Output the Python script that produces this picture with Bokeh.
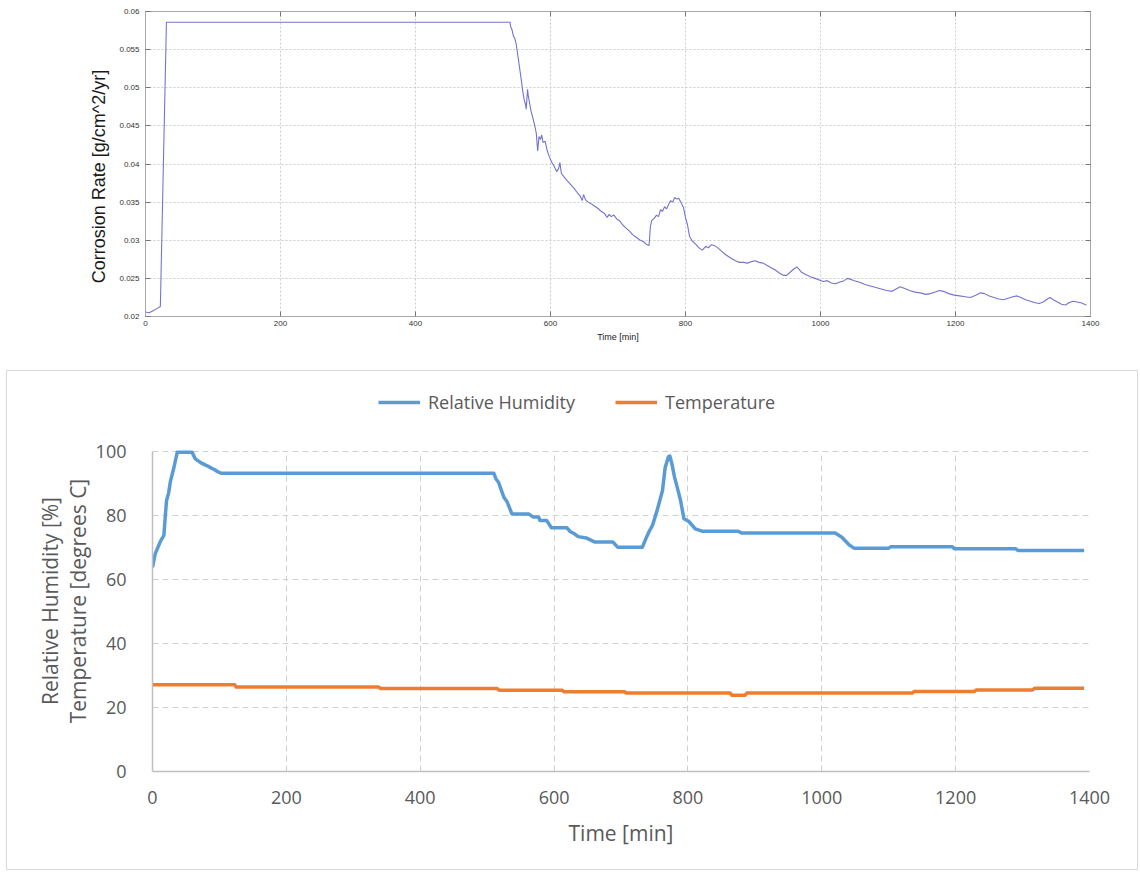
from bokeh.plotting import figure
from bokeh.layouts import column
from bokeh.models import (Range1d, FixedTicker, CustomJSTickFormatter, LinearAxis,
                          Legend, LegendItem)
from bokeh.embed import file_html
from bokeh.resources import INLINE

# ---------------- data ----------------
# Corrosion rate logger (top panel)
corr_time = [0, 5, 10, 18, 22, 31, 540, 541, 543, 545, 547, 549, 552, 556, 559, 561,
             563, 564, 566, 567, 569, 571, 574, 577, 579, 581, 583, 585, 587, 589, 592,
             595, 598, 602, 606, 609, 612, 614, 616, 620, 625, 630, 635, 640, 644, 647,
             649, 652, 656, 660, 665, 670, 675, 680, 684, 687, 690, 694, 698, 702, 707,
             712, 717, 722, 727, 733, 738, 743, 746, 748, 750, 754, 757, 760, 763, 766,
             769, 772, 775, 778, 781, 784, 787, 790, 793, 797, 800, 803, 806, 810, 815,
             820, 825, 830, 834, 838, 843, 848, 853, 858, 863, 868, 874, 880, 886, 892,
             898, 903, 909, 915, 921, 927, 933, 939, 945, 950, 955, 960, 965, 968, 972,
             978, 985, 992, 998, 1004, 1010, 1016, 1022, 1028, 1035, 1040, 1044, 1050,
             1058, 1066, 1074, 1082, 1090, 1098, 1106, 1112, 1118, 1124, 1132, 1140,
             1148, 1156, 1163, 1170, 1176, 1182, 1190, 1198, 1206, 1214, 1222, 1230,
             1237, 1243, 1250, 1257, 1264, 1271, 1278, 1285, 1291, 1297, 1304, 1311,
             1318, 1324, 1330, 1336, 1340, 1345, 1351, 1357, 1363, 1368, 1374, 1380,
             1386, 1391, 1394]
corr_rate = [0.0206, 0.0205, 0.0207, 0.0211, 0.0213, 0.0586, 0.0586, 0.0580, 0.0576,
             0.0568, 0.0565, 0.0558, 0.0540, 0.0515, 0.0495, 0.0484, 0.0478, 0.0472,
             0.0498, 0.0490, 0.0480, 0.0470, 0.0460, 0.0449, 0.0440, 0.0417, 0.0436,
             0.0432, 0.0438, 0.0428, 0.0430, 0.0418, 0.0410, 0.0402, 0.0396, 0.0390,
             0.0394, 0.0402, 0.0388, 0.0383, 0.0378, 0.0373, 0.0368, 0.0362, 0.0358,
             0.0352, 0.0360, 0.0353, 0.0350, 0.0348, 0.0345, 0.0342, 0.0338, 0.0335,
             0.0330, 0.0334, 0.0331, 0.0333, 0.0328, 0.0326, 0.0320, 0.0316, 0.0312,
             0.0307, 0.0304, 0.0300, 0.0298, 0.0294, 0.0293, 0.0318, 0.0326, 0.0329,
             0.0333, 0.0331, 0.0340, 0.0338, 0.0344, 0.0341, 0.0347, 0.0352, 0.0350,
             0.0356, 0.0354, 0.0355, 0.0350, 0.0343, 0.0330, 0.0320, 0.0305, 0.0299,
             0.0295, 0.0290, 0.0287, 0.0292, 0.0290, 0.0294, 0.0293, 0.0290, 0.0286,
             0.0282, 0.0279, 0.0276, 0.0273, 0.0271, 0.0271, 0.0270, 0.0272, 0.0273,
             0.0271, 0.0270, 0.0267, 0.0264, 0.0261, 0.0257, 0.0254, 0.0254, 0.0258,
             0.0262, 0.0265, 0.0262, 0.0258, 0.0255, 0.0252, 0.0250, 0.0248, 0.0246,
             0.0247, 0.0244, 0.0243, 0.0245, 0.0247, 0.0250, 0.0249, 0.0247, 0.0245,
             0.0242, 0.0240, 0.0238, 0.0236, 0.0234, 0.0233, 0.0236, 0.0239, 0.0237,
             0.0234, 0.0232, 0.0231, 0.0229, 0.0230, 0.0232, 0.0234, 0.0233, 0.0230,
             0.0228, 0.0227, 0.0226, 0.0225, 0.0228, 0.0231, 0.0230, 0.0227, 0.0225,
             0.0223, 0.0222, 0.0224, 0.0226, 0.0227, 0.0225, 0.0222, 0.0220, 0.0218,
             0.0217, 0.0219, 0.0223, 0.0225, 0.0222, 0.0219, 0.0216, 0.0215, 0.0218,
             0.0220, 0.0219, 0.0218, 0.0216, 0.0215]

# Relative humidity (bottom panel)
rh_time = [0, 4, 8, 12, 17, 19, 21, 24, 27, 32, 37, 59, 64, 72, 81, 88, 93, 98, 103,
           510, 513, 517, 521, 525, 530, 537, 562, 569, 577, 579, 589, 596, 619, 624,
           631, 636, 648, 661, 688, 695, 732, 737, 742, 747, 754, 762, 766, 771, 773,
           776, 780, 784, 789, 794, 801, 811, 821, 875, 880, 1020, 1030, 1040, 1048,
           1100, 1103, 1195, 1198, 1290, 1293, 1392]
rh_value = [63.8, 68.0, 70.0, 72.0, 73.8, 79.5, 84.7, 87.0, 90.9, 95.0, 99.8, 99.8,
            97.7, 96.5, 95.6, 94.8, 94.3, 93.6, 93.2, 93.2, 91.5, 90.4, 88.0, 85.7,
            84.2, 80.5, 80.5, 79.5, 79.5, 78.4, 78.4, 76.2, 76.2, 75.0, 74.2, 73.4,
            73.0, 71.7, 71.7, 70.1, 70.1, 72.7, 75.0, 76.9, 81.6, 87.8, 95.0, 98.4,
            98.6, 96.2, 92.0, 88.8, 84.7, 79.0, 78.2, 75.8, 75.1, 75.1, 74.5, 74.5,
            73.2, 71.0, 69.8, 69.8, 70.2, 70.2, 69.6, 69.6, 69.1, 69.1]

# Temperature (bottom panel)
temp_time = [0, 123, 125, 338, 341, 515, 518, 612, 615, 705, 708, 863, 866, 885, 888,
             1135, 1138, 1228, 1231, 1315, 1318, 1392]
temp_value = [27.1, 27.1, 26.4, 26.4, 25.9, 25.9, 25.4, 25.4, 24.9, 24.9, 24.5, 24.5,
              23.8, 23.8, 24.5, 24.5, 25.0, 25.0, 25.5, 25.5, 26.0, 26.0]

time_ticks = [0, 200, 400, 600, 800, 1000, 1200, 1400]
corr_ticks = [0.02, 0.025, 0.03, 0.035, 0.04, 0.045, 0.05, 0.055, 0.06]
pct_ticks = [0, 20, 40, 60, 80, 100]

# ---------------- top panel: corrosion rate ----------------
MFONT = "Liberation Sans"
FRAME = "#a8a8a8"

p1 = figure(width=1140, height=360, x_range=Range1d(0, 1400), y_range=Range1d(0.02, 0.06),
            output_backend="svg", toolbar_location=None,
            min_border_left=144, min_border_right=50, min_border_top=11, min_border_bottom=44)
p1.line(corr_time, corr_rate, line_color="#5a5ac8", line_width=1.1, line_alpha=0.85)

p1.outline_line_color = FRAME
p1.background_fill_color = "white"
for g in (p1.xgrid[0], p1.ygrid[0]):
    g.grid_line_color = "#cccccc"
    g.grid_line_dash = "2 2"
p1.xgrid.ticker = FixedTicker(ticks=time_ticks)
p1.ygrid.ticker = FixedTicker(ticks=corr_ticks)

xa = p1.xaxis[0]
xa.ticker = FixedTicker(ticks=time_ticks)
xa.axis_label = "Time [min]"
xa.axis_label_text_font_size = "9px"
xa.axis_label_standoff = 3
ya = p1.yaxis[0]
ya.ticker = FixedTicker(ticks=corr_ticks)
ya.formatter = CustomJSTickFormatter(code="return String(parseFloat(tick.toFixed(4)));")
# trailing no-break spaces nudge the rotated title slightly downwards
ya.axis_label = "Corrosion Rate [g/cm^2/yr]" + "\u00a0" * 5
ya.axis_label_text_font_size = "18px"
ya.axis_label_standoff = 7
ya.major_label_standoff = 6
xa.major_label_standoff = 4

for ax in (xa, ya):
    ax.axis_line_color = FRAME
    ax.major_tick_line_color = "#777777"
    ax.major_tick_in = 5
    ax.major_tick_out = 0
    ax.minor_tick_line_color = None
    ax.major_label_text_font = MFONT
    ax.major_label_text_font_size = "8px"
    ax.major_label_text_color = "#333333"
    ax.axis_label_text_font = MFONT
    ax.axis_label_text_font_style = "normal"
    ax.axis_label_text_color = "#1a1a1a"

# box-style frame: tick marks on the top and right edges, without labels
blank = CustomJSTickFormatter(code="return '';")
top_ax = LinearAxis(ticker=FixedTicker(ticks=time_ticks), formatter=blank,
                    major_label_standoff=0, major_tick_in=5, major_tick_out=0,
                    minor_tick_line_color=None, axis_line_color=FRAME,
                    major_tick_line_color="#777777")
right_ax = LinearAxis(ticker=FixedTicker(ticks=corr_ticks), formatter=blank,
                      major_label_standoff=0, major_tick_in=5, major_tick_out=0,
                      minor_tick_line_color=None, axis_line_color=FRAME,
                      major_tick_line_color="#777777")
p1.add_layout(top_ax, "above")
p1.add_layout(right_ax, "right")

# ---------------- bottom panel: humidity and temperature ----------------
XFONT = "Open Sans"
GREY = "#595959"

# the plot area reaches up to hold the legend row; 0..100 % keeps 320 px
H2, TOP2, BOT2 = 500, 10, 100
y_top = 100 * (H2 - TOP2 - BOT2) / 320

p2 = figure(width=1132, height=H2, x_range=Range1d(0, 1400), y_range=Range1d(0, y_top),
            output_backend="svg", toolbar_location=None,
            min_border_left=145, min_border_right=42, min_border_top=TOP2,
            min_border_bottom=BOT2,
            margin=(10, 0, 0, 6), styles={"border": "1px solid #d9d9d9"})
p2.outline_line_color = None

r_rh = p2.line(rh_time, rh_value, line_color="#5b9bd5", line_width=3.5, line_join="round")
r_t = p2.line(temp_time, temp_value, line_color="#ed7d31", line_width=3.5, line_join="round")

for g in (p2.xgrid[0], p2.ygrid[0]):
    g.grid_line_color = "#d0d0d0"
    g.grid_line_dash = "6 4"
    g.grid_line_width = 1
p2.xgrid.ticker = FixedTicker(ticks=time_ticks)
p2.xgrid.cross_bounds = (0, 100)
p2.ygrid.ticker = FixedTicker(ticks=pct_ticks)

bx = p2.xaxis[0]
bx.ticker = FixedTicker(ticks=time_ticks)
bx.axis_label = "Time [min]"
bx.major_label_standoff = 13
bx.axis_label_standoff = 12

# trailing no-break spaces keep the rotated title centred on the 0..100 span
pad = "\u00a0" * 9
by = p2.yaxis[0]
by.ticker = FixedTicker(ticks=pct_ticks)
by.bounds = (0, 100)
by.axis_label = "Relative Humidity [%]" + pad + "\nTemperature [degrees C]" + pad
by.axis_label_text_line_height = 1.0
by.major_label_standoff = 20
by.axis_label_standoff = 1
for ax in (bx, by):
    ax.axis_line_color = "#bfbfbf"
    ax.axis_line_width = 1.5
    ax.major_tick_line_color = None
    ax.minor_tick_line_color = None
    ax.major_label_text_font = XFONT
    ax.major_label_text_font_size = "18px"
    ax.major_label_text_color = GREY
    ax.axis_label_text_font = XFONT
    ax.axis_label_text_font_size = "21px"
    ax.axis_label_text_font_style = "normal"
    ax.axis_label_text_color = GREY

legend = Legend(items=[LegendItem(label="Relative Humidity", renderers=[r_rh]),
                       LegendItem(label="Temperature", renderers=[r_t])],
                orientation="horizontal", location=(226, 357), margin=0, padding=5,
                label_text_font=XFONT, label_text_font_size="18px", label_text_color=GREY,
                glyph_width=42, label_standoff=8, spacing=40,
                border_line_color=None, background_fill_alpha=0)
p2.add_layout(legend, "center")

layout = column(p1, p2, spacing=0)
open("out.html", "w").write(file_html(layout, INLINE))
